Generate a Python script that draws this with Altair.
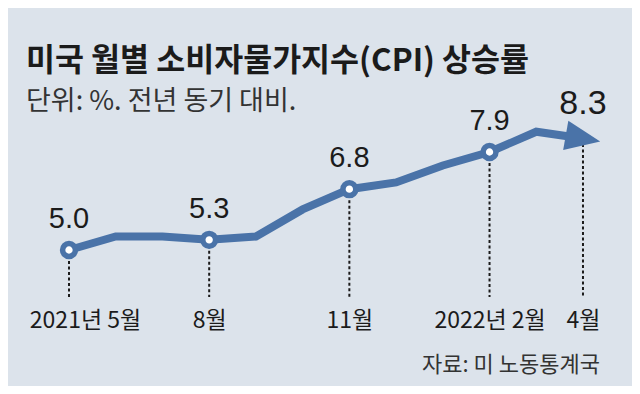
import altair as alt
import pandas as pd

# ---- data ----
months = ["2021-05", "2021-06", "2021-07", "2021-08", "2021-09", "2021-10",
          "2021-11", "2021-12", "2022-01", "2022-02", "2022-03", "2022-04"]
cpi = [5.0, 5.4, 5.4, 5.3, 5.4, 6.2, 6.8, 7.0, 7.5, 7.9, 8.5, 8.3]
marked_months = ["2021-05", "2021-08", "2021-11", "2022-02"]
arrow_month = "2022-04"
tick_months = ["2021-05", "2021-08", "2021-11", "2022-02", "2022-04"]
tick_labels = ["2021년 5월", "8월", "11월", "2022년 2월", "4월"]
title_text = "미국 월별 소비자물가지수(CPI) 상승률"
subtitle_text = "단위: %. 전년 동기 대비."
source_text = "자료: 미 노동통계국"

# ---- style ----
BLUE = "#4a73a8"
BG = "#dce3eb"
INK = "#1b1b1b"
KR = "Noto Sans CJK KR"
NUM = "Liberation Sans"
X_DOMAIN = [-1.3055, 12.049]
Y_DOMAIN = [3.609, 8.847]
W, H = 624, 177

df = pd.DataFrame({"month": months, "value": cpi})
df["i"] = list(range(len(months)))
df["marked"] = df["month"].isin(marked_months)
df["arrow"] = df["month"] == arrow_month
df["ticked"] = df["month"].isin(tick_months)
df["label"] = [f"{v:.1f}" for v in cpi]

tick_idx = [months.index(m) for m in tick_months]
label_expr = " : ".join(f"datum.value == {i} ? '{t}'" for i, t in zip(tick_idx, tick_labels)) + " : ''"

x = alt.X(
    "i:Q",
    scale=alt.Scale(domain=X_DOMAIN, nice=False, zero=False),
    axis=alt.Axis(
        values=tick_idx, labelExpr=label_expr, domain=False, ticks=False, grid=False,
        title=None, labelFont=KR, labelFontSize=23, labelColor=INK, labelPadding=12,
        labelOverlap=False, labelFlush=False, labelBound=False,
        labelOffset={"condition": {"test": "datum.value == 0", "value": 16}, "value": 0},
    ),
)
y = alt.Y("value:Q", scale=alt.Scale(domain=Y_DOMAIN, nice=False, zero=False), axis=None)

base = alt.Chart(df)

rules = base.transform_filter("datum.ticked").mark_rule(
    strokeDash=[3, 2.5], strokeWidth=2, color=INK
).encode(x=x, y=y, y2=alt.datum(Y_DOMAIN[0]))

line = base.mark_line(color=BLUE, strokeWidth=8).encode(x=x, y=y)

dots = base.transform_filter("datum.marked").mark_point(
    shape="circle", filled=True, fill="white", stroke=BLUE, strokeWidth=5.5, size=165, opacity=1
).encode(x=x, y=y)

arrow = base.transform_filter("datum.arrow").mark_point(
    shape="M-1,-0.85L1,0L-1,0.85Z", filled=True, color=BLUE, size=1225, angle=10, opacity=1
).encode(x=x, y=y)

labels = base.transform_filter("datum.marked").mark_text(
    font=NUM, fontSize=29, color=INK, baseline="alphabetic", dy=-22
).encode(x=x, y=y, text="label:N")

arrow_label = base.transform_filter("datum.arrow").mark_text(
    font=NUM, fontSize=34, color=INK, baseline="alphabetic", dy=-24
).encode(x=x, y=y, text="label:N")

source = alt.Chart(pd.DataFrame({"t": [source_text]})).mark_text(
    font=KR, fontSize=22, color="#333333", align="right", baseline="alphabetic"
).encode(x=alt.value(592), y=alt.value(252), text="t:N")

chart = alt.layer(rules, line, dots, arrow, labels, arrow_label, source).properties(
    width=W, height=H,
    padding={"left": 0, "right": 0, "top": 112, "bottom": 89},
    autosize=alt.AutoSizeParams(type="none"),
    background=BG,
    title=alt.TitleParams(
        text=title_text, subtitle=subtitle_text, anchor="start", frame="group", dx=18,
        font=KR, fontSize=31.5, fontWeight="bold", color=INK,
        subtitleFont=KR, subtitleFontSize=27, subtitleColor="#333333", subtitlePadding=12,
        offset=-28,
    ),
).configure_view(strokeWidth=0)

chart.save("out.html", embed_options={"renderer": "svg", "actions": False})
